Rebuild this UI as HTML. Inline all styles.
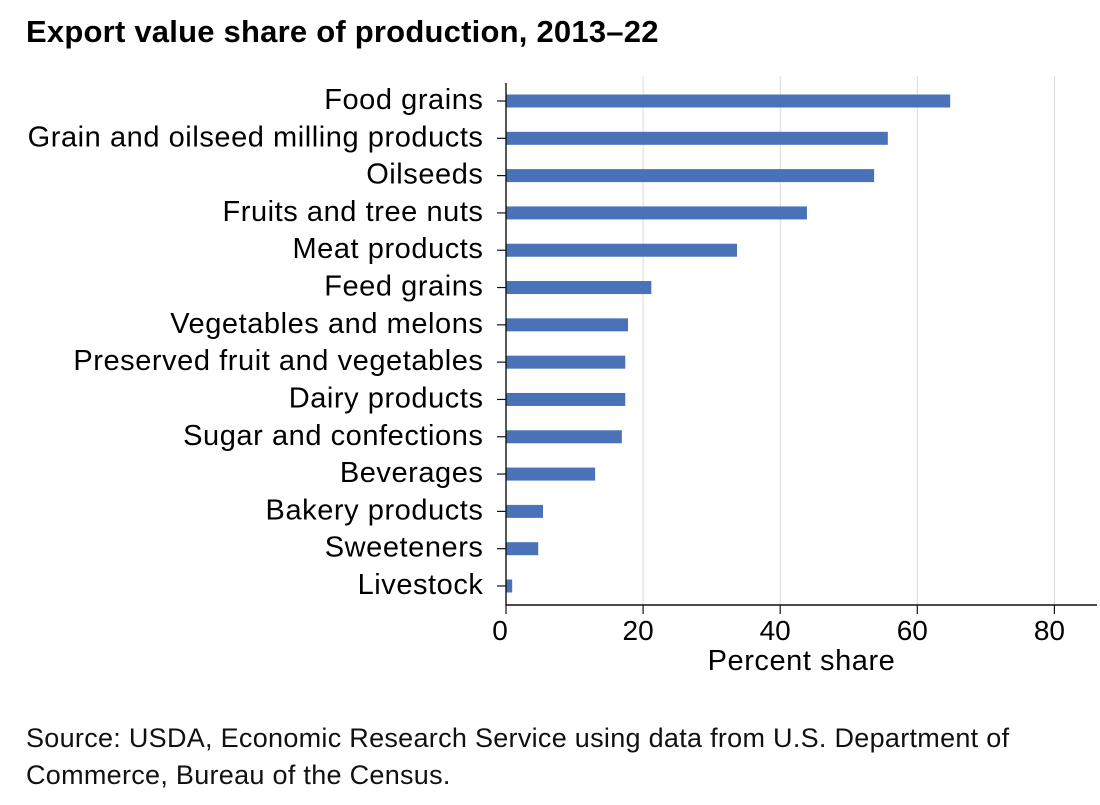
<!DOCTYPE html>
<html>
<head>
<meta charset="utf-8">
<title>Export value share of production</title>
<style>
html,body{margin:0;padding:0;background:#fff;}
body{width:1100px;height:805px;overflow:hidden;position:relative;font-family:"Liberation Sans",sans-serif;color:#000;}
#chart-title{position:absolute;left:26px;top:14px;font-size:31px;letter-spacing:0.22px;font-weight:700;line-height:36px;white-space:nowrap;}
#source-note{position:absolute;left:26px;top:720px;font-size:27px;letter-spacing:0.29px;line-height:37px;color:#111;white-space:nowrap;}
svg{position:absolute;left:0;top:0;}
svg text{font-family:"Liberation Sans",sans-serif;fill:#000;}
</style>
</head>
<body>
<div id="chart-title">Export value share of production, 2013–22</div>
<svg id="chart" width="1100" height="805" viewBox="0 0 1100 805"></svg>
<div id="source-note">Source: USDA, Economic Research Service using data from U.S. Department of<br>Commerce, Bureau of the Census.</div>
<script>
const categories = ["Food grains","Grain and oilseed milling products","Oilseeds","Fruits and tree nuts","Meat products","Feed grains","Vegetables and melons","Preserved fruit and vegetables","Dairy products","Sugar and confections","Beverages","Bakery products","Sweeteners","Livestock"];
const shareValues = [64.8,55.7,53.7,43.9,33.7,21.2,17.8,17.4,17.4,16.9,13,5.4,4.7,0.9];
const xTickLabels = [0,20,40,60,80];

const svg = document.getElementById('chart');
const NS = 'http://www.w3.org/2000/svg';
const x = v => 506 + v * 6.855;
const y = i => 101 + i * ((586 - 101) / (categories.length - 1));
function make(tag, attrs, text){
  const el = document.createElementNS(NS, tag);
  for (const k in attrs) el.setAttribute(k, attrs[k]);
  if (text !== undefined) el.textContent = text;
  svg.appendChild(el);
  return el;
}
xTickLabels.forEach(t => {
  if (t !== 0) {
    const g = make('line',{x1:x(t),x2:x(t),y1:76,y2:605,stroke:'#d9d9d9','stroke-width':1});
    
    
  }
});
categories.forEach((c, i) => {
  const bar = make('rect',{x:x(0),y:y(i)-6.5,width:x(shareValues[i])-x(0),height:13,fill:'#4a72b8'});
  
  
  const tick = make('line',{x1:x(0)-9,x2:x(0),y1:y(i),y2:y(i),stroke:'#111','stroke-width':1.2});
  
  
  const label = make('text',{x:483.5,y:y(i)+8,'text-anchor':'end','font-size':29,'letter-spacing':0.56}, c);
  
  
});
xTickLabels.forEach(t => {
  const tick = make('line',{x1:x(t),x2:x(t),y1:605,y2:614,stroke:'#111','stroke-width':1.2});
  
  
  const label = make('text',{x:t===0?x(t)-6:x(t)-5,y:640,'text-anchor':'middle','font-size':28}, t);
  
  
});
const yAxis = make('line',{x1:x(0),x2:x(0),y1:83,y2:605.6,stroke:'#111','stroke-width':1.4});


const xAxis = make('line',{x1:x(0),x2:1097,y1:605,y2:605,stroke:'#111','stroke-width':1.4});


const xTitle = make('text',{x:801.5,y:670,'text-anchor':'middle','font-size':29,'letter-spacing':0.55}, 'Percent share');


</script>
</body>
</html>
